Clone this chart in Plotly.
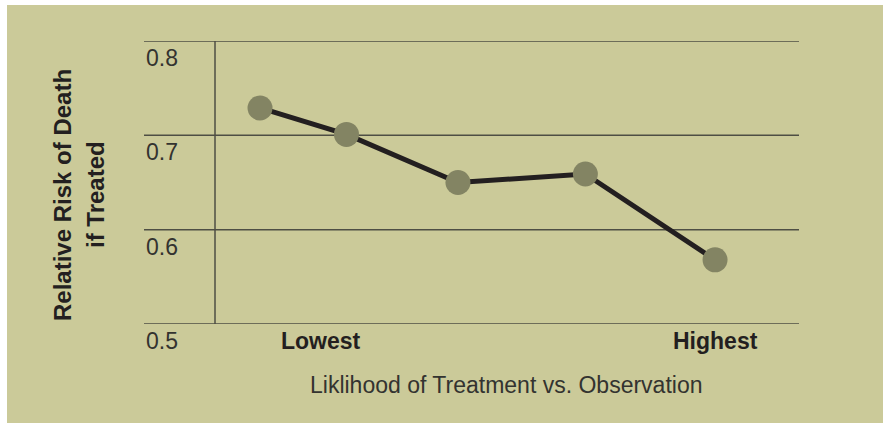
import plotly.graph_objects as go

# Relative risk of death if treated, by likelihood-of-treatment group
group_pos = [1.0, 1.76, 2.74, 3.86, 5.0]
relative_risk = [0.729, 0.701, 0.650, 0.659, 0.568]

y_ticks = [0.5, 0.6, 0.7, 0.8]
y_tick_labels = ["0.5", "0.6", "0.7", "0.8"]
x_end_pos = [1.54, 5.0]
x_end_labels = ["Lowest", "Highest"]

W, H = 883, 423
L, R, T, B = 144, 84, 41, 99
PW, PH = W - L - R, H - T - B

BG = "#CBCA99"
INK = "#231F20"
GRID = "#4E4E44"
DOT = "#838463"
FONT = "Liberation Sans, Arial, sans-serif"


def px_x(px):
    return (px - L) / PW


def px_y(py):
    return 1 - (py - T) / PH


fig = go.Figure()
fig.add_trace(go.Scatter(
    x=group_pos, y=relative_risk, mode="lines+markers",
    line=dict(color=INK, width=5),
    marker=dict(size=25, color=DOT, line=dict(width=0)),
    showlegend=False, hoverinfo="skip", cliponaxis=False,
))

annotations = []
for v, t in zip(y_ticks, y_tick_labels):
    annotations.append(dict(
        x=0, xref="paper", y=v, yref="y", text=t, showarrow=False,
        xanchor="left", yanchor="middle", yshift=-17,
        font=dict(family=FONT, size=23, color="#333330"),
    ))
for v, t in zip(x_end_pos, x_end_labels):
    annotations.append(dict(
        x=v, xref="x", y=0, yref="paper", text=f"<b>{t}</b>", showarrow=False,
        xanchor="center", yanchor="middle", yshift=-17,
        font=dict(family=FONT, size=23, color=INK),
    ))
annotations.append(dict(
    x=px_x(506), xref="paper", y=0, yref="paper",
    text="Liklihood of Treatment vs. Observation", showarrow=False,
    xanchor="center", yanchor="middle", yshift=-61,
    font=dict(family=FONT, size=23, color="#333330"),
))
for xc, line in [(62, "Relative Risk of Death"), (95, "if Treated")]:
    annotations.append(dict(
        x=px_x(xc), xref="paper", y=px_y(195), yref="paper",
        text=f"<b>{line}</b>", textangle=-90, showarrow=False,
        xanchor="center", yanchor="middle",
        font=dict(family=FONT, size=24, color=INK),
    ))

shapes = [
    # white margin strips at top and left
    dict(type="rect", xref="paper", yref="paper", x0=px_x(-5), x1=px_x(W + 5),
         y0=px_y(5), y1=px_y(-5), fillcolor="white", line=dict(width=0), layer="below"),
    dict(type="rect", xref="paper", yref="paper", x0=px_x(-5), x1=px_x(7),
         y0=px_y(H + 5), y1=px_y(-5), fillcolor="white", line=dict(width=0), layer="below"),
    # vertical axis line
    dict(type="line", xref="paper", yref="paper", x0=px_x(215), x1=px_x(215),
         y0=0, y1=1, line=dict(color=GRID, width=1.5), layer="below"),
]
# horizontal rules at each tick value
for v in y_ticks:
    shapes.append(dict(type="line", xref="paper", yref="y", x0=0, x1=1,
                       y0=v, y1=v, line=dict(color=GRID, width=1.5), layer="below"))

fig.update_layout(
    width=W, height=H,
    margin=dict(l=L, r=R, t=T, b=B, pad=0),
    paper_bgcolor=BG, plot_bgcolor="rgba(0,0,0,0)",
    xaxis=dict(range=[-0.020, 5.738], showgrid=False, zeroline=False,
               showticklabels=False, showline=False, fixedrange=True),
    yaxis=dict(range=[0.5, 0.8], showticklabels=False, showgrid=False,
               zeroline=False, showline=False, fixedrange=True),
    annotations=annotations, shapes=shapes,
)

fig.write_html("out.html")
